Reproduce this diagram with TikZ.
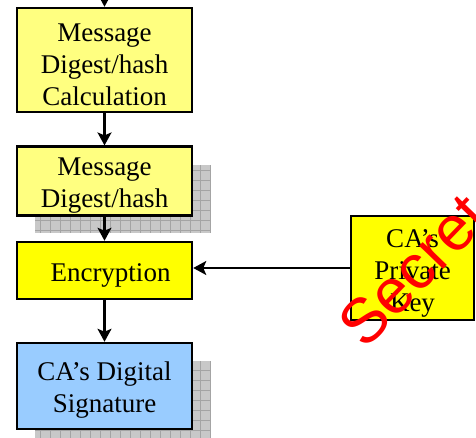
\documentclass[tikz,border=0pt]{standalone}
\usepackage{fontspec}
\setmainfont{Liberation Serif}
\newfontfamily\secretfont{Liberation Sans}
\usetikzlibrary{arrows.meta}
\definecolor{lightyel}{HTML}{FFFF80}
\definecolor{yel}{HTML}{FFFF00}
\definecolor{lblue}{HTML}{99CCFF}
\definecolor{shadowfill}{HTML}{C8C8C8}
\definecolor{shadowline}{HTML}{A4A4A4}
\newcommand\tup{\rule{0pt}{27pt}}
\tikzset{
  box/.style={draw=black, line width=2.5pt, align=center, inner sep=2pt,
    font=\fontsize{27}{31.8}\selectfont, minimum width=175pt},
  conn/.style={line width=2.2pt, -{Stealth[length=13pt,width=14pt,inset=3pt]}}
}
\begin{document}
\begin{tikzpicture}[x=1pt,y=-1pt]
\useasboundingbox (0,0) rectangle (476,438);
\clip (0,0) rectangle (476,438);
% shadows
\fill[shadowfill] (35,165) rectangle (210,233);
\draw[shadowline, line width=0.6pt, step=10pt] (35,165) grid (210,233);
\fill[shadowfill] (35,361) rectangle (210,447);
\draw[shadowline, line width=0.6pt, step=10pt] (35,361) grid (210,447);
% boxes
\node[box, fill=lightyel, minimum height=104pt] (calc) at (104.5,60) {\tup Message\\Digest/hash\\Calculation};
\node[box, fill=lightyel, minimum height=68pt] (digest) at (104.5,181) {\tup Message\\Digest/hash};
\node[box, fill=yel, minimum height=57pt] (enc) at (104.5,270.5) {\tup\hspace*{12pt}Encryption};
\node[box, fill=lblue, minimum height=86pt] (sig) at (104.5,386) {\tup CA’s Digital\\Signature};
\node[box, fill=yel, minimum height=104pt, minimum width=123pt] (key) at (412.5,268) {\rule{0pt}{29pt}CA’s\\Private\\Key};
% connectors
\coordinate (topin) at (104.5,-2);
\draw[conn] (topin) -- (calc.north);
\draw[conn] (calc) -- (digest);
\draw[conn] (digest) -- (enc);
\draw[conn] (enc) -- (sig);
\draw[conn] (key.west |- 0,268) -- (enc.east |- 0,268);
% stamp
\node[text=red, rotate=46, font=\secretfont\fontsize{63}{63}\selectfont, inner sep=0pt] (secret) at (413,270) {Secret};
\end{tikzpicture}
\end{document}
